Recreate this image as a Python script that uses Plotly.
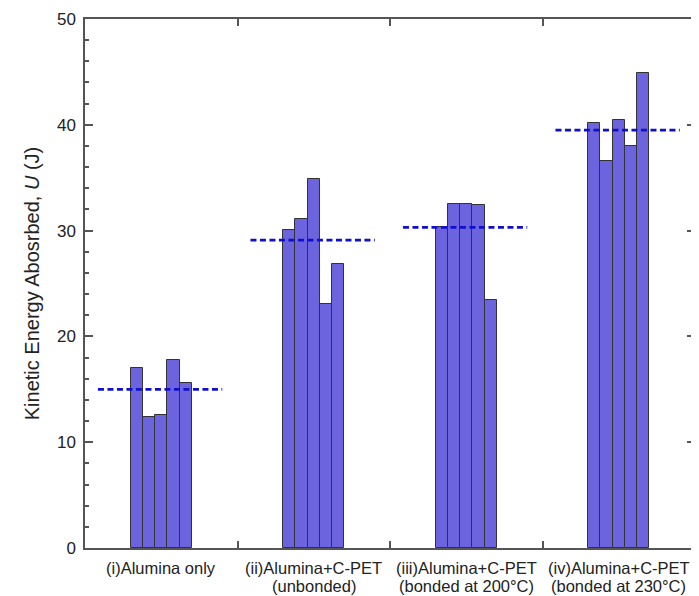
import plotly.graph_objects as go

categories = ["(i)Alumina only",
              "(ii)Alumina+C-PET<br>(unbonded)",
              "(iii)Alumina+C-PET<br>(bonded at 200°C)",
              "(iv)Alumina+C-PET<br>(bonded at 230°C)"]
specimen_values = [
    [17.0, 12.4, 12.6, 17.8, 15.6],
    [30.1, 31.1, 34.9, 23.1, 26.8],
    [30.3, 32.5, 32.5, 32.4, 23.4],
    [40.2, 36.6, 40.5, 38.0, 44.9],
]
mean_values = [15.0, 29.1, 30.3, 39.5]
y_ticks = [0, 10, 20, 30, 40, 50]

bar_w = 0.08
xs, ys = [], []
for gi, vals in enumerate(specimen_values):
    n = len(vals)
    for k, v in enumerate(vals):
        xs.append(gi + 0.5 + (k - (n - 1) / 2) * bar_w)
        ys.append(v)

fig = go.Figure()
fig.add_trace(go.Bar(x=xs, y=ys, width=bar_w,
                     marker=dict(color="rgb(108,100,222)",
                                 line=dict(color="#333333", width=1)),
                     showlegend=False))
for gi, m in enumerate(mean_values):
    c = gi + 0.5
    fig.add_trace(go.Scatter(x=[c - 0.415, c + 0.4], y=[m, m], mode="lines",
                             line=dict(color="#1010CC", width=2.8, dash="6px,3.5px"),
                             showlegend=False))

# category labels (two lines each) placed under the axis
for gi, label in enumerate(categories):
    lines = label.split("<br>")
    for li, txt in enumerate(lines):
        fig.add_annotation(x=gi + 0.5, xref="x", y=0, yref="paper",
                           text=txt, showarrow=False, yanchor="middle",
                           yshift=-20 - 18 * li,
                           font=dict(size=16.5, color="#222222"))

# the page body adds an 8px offset, so the figure is sized to fit the window
fig.update_layout(
    width=691, height=588,
    margin=dict(l=77, r=4, t=11, b=48),
    plot_bgcolor="white", paper_bgcolor="white",
    font=dict(family="Liberation Sans, Arial, sans-serif", size=15, color="#222222"),
    bargap=0,
)
fig.update_xaxes(range=[0, 4], tickvals=[0.5, 1.5, 2.5, 3.5], showticklabels=False,
                 ticks="inside", ticklen=0, showline=True, linecolor="#555555", linewidth=1.5,
                 mirror="ticks", showgrid=False, zeroline=False, automargin=False,
                 minor=dict(ticks="inside", ticklen=7, tick0=0, dtick=1,
                            tickcolor="#555555", tickwidth=1.5, showgrid=False))
fig.update_yaxes(range=[0, 50], tickvals=y_ticks, ticks="inside", ticklen=8,
                 tickcolor="#555555", tickwidth=1.5, automargin=False,
                 showline=True, linecolor="#555555", linewidth=1.5, mirror="ticks",
                 showgrid=False, zeroline=False, tickfont=dict(size=17),
                 ticklabelstandoff=4,
                 minor=dict(ticks="inside", ticklen=4, dtick=2, tick0=0,
                            tickcolor="#555555", tickwidth=1.5, showgrid=False),
                 title=dict(text="Kinetic Energy Abosrbed, <i>U</i> (J)",
                            font=dict(size=20), standoff=12))
fig.write_html("out.html")
